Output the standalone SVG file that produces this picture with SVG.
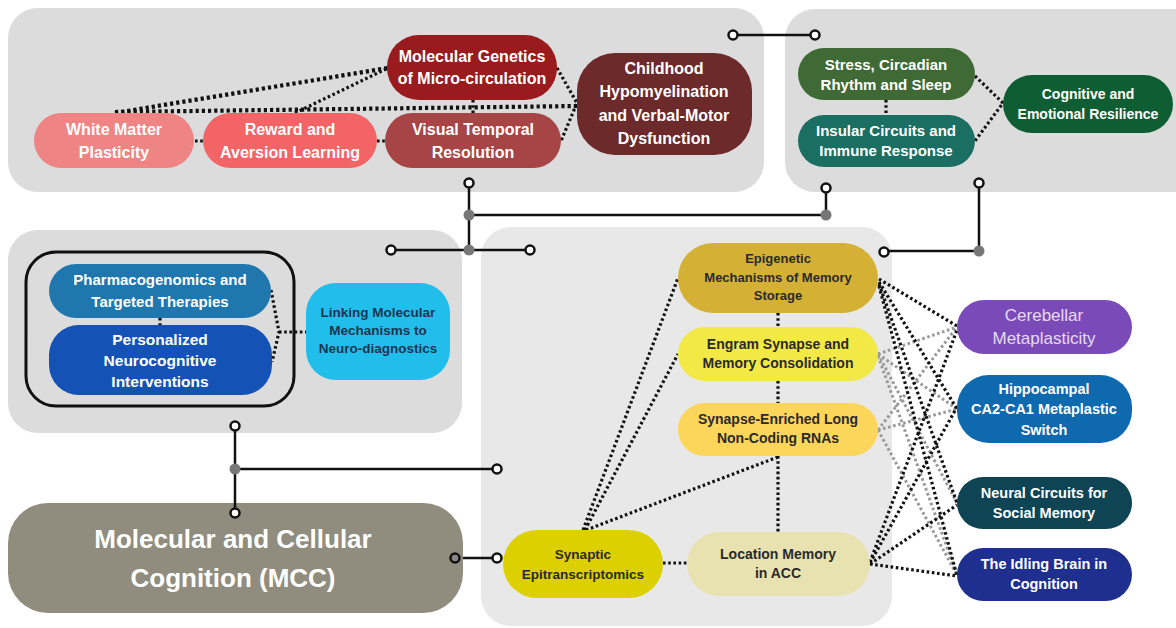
<svg xmlns="http://www.w3.org/2000/svg" width="1176" height="628" viewBox="0 0 1176 628">
<style>
.t{font-family:"Liberation Sans",Arial,sans-serif;font-weight:bold;text-anchor:middle;fill:#fff}
.d{fill:#2a2a2a}
.sol{stroke:#111;stroke-width:2.5;fill:none}
.dot{stroke:#111;stroke-width:3.2;stroke-dasharray:2.6 2.6;fill:none}
.dotk{stroke:#111;stroke-width:4.2;stroke-dasharray:3.2 3;fill:none}
.dotg{stroke:#999;stroke-width:3;stroke-dasharray:2.6 2.6;fill:none}
.oc{fill:#fff;stroke:#111;stroke-width:2.5}
.jd{fill:#777}
.panel{fill:#dcdcdc}
</style>
<rect class="panel" x="8" y="8" width="756" height="184" rx="30"/>
<rect class="panel" x="785" y="9" width="420" height="183" rx="30"/>
<rect class="panel" x="8" y="230" width="454" height="203" rx="30"/>
<rect x="481" y="227" width="411" height="399" rx="30" fill="#e8e8e8"/>

<g id="connectors">
<path class="dotk" d="M115 113 L388 68"/>
<path class="dotk" d="M115 112 L577 106"/>
<path class="dot" d="M295 113 L388 68"/>
<path class="dot" d="M195 141 H203"/>
<path class="dot" d="M377 141 H385"/>
<path class="dot" d="M473 100 V113"/>
<path class="dot" d="M557 68 L577 103 L561 141"/>
<path class="dot" d="M886 100 V115"/>
<path class="dot" d="M975 76 L1003 103 L975 141"/>
<path class="dot" d="M160 318 V325"/>
<path class="dot" d="M271 290 L279 332 L272 362"/>
<path class="dot" d="M279 332 H306"/>
<path class="dot" d="M778 313 V327"/>
<path class="dot" d="M778 381 V403"/>
<path class="dot" d="M778 456 V532"/>
<path class="dot" d="M583 530 L678 278"/>
<path class="dot" d="M585 530 L678 354"/>
<path class="dot" d="M586 530 L778 457"/>
<path class="dot" d="M663 563 H687"/>
<path class="dotg" d="M878 354 L957 327"/>
<path class="dotg" d="M878 354 L957 409"/>
<path class="dotg" d="M878 354 L957 503"/>
<path class="dotg" d="M878 356 L957 575"/>
<path class="dotg" d="M878 430 L957 327"/>
<path class="dotg" d="M878 430 L957 409"/>
<path class="dotg" d="M878 430 L957 575"/>
<path class="dot" d="M879 279 L957 326"/>
<path class="dot" d="M879 282 L957 409"/>
<path class="dot" d="M879 284 L957 503"/>
<path class="dot" d="M879 286 L957 576"/>
<path class="dot" d="M870 562 L957 330"/>
<path class="dot" d="M870 563 L957 407"/>
<path class="dot" d="M870 564 L957 505"/>
<path class="dot" d="M870 564 L957 576"/>
<path class="sol" d="M733 35 H815"/>
<path class="sol" d="M469 183 V250"/>
<path class="sol" d="M469 215 H826 V188"/>
<path class="sol" d="M391 250 H530"/>
<path class="sol" d="M979 183 V251 H884"/>
<path class="sol" d="M235 426 V513"/>
<path class="sol" d="M235 469 H497"/>
<path class="sol" d="M455 558 H497"/>
<circle class="jd" cx="469" cy="215" r="5.5"/>
<circle class="jd" cx="469" cy="250" r="5.5"/>
<circle class="jd" cx="826" cy="215" r="5.5"/>
<circle class="jd" cx="979" cy="251" r="5.5"/>
<circle class="jd" cx="235" cy="469" r="5.5"/>
<circle class="oc" cx="733" cy="35" r="4.5"/>
<circle class="oc" cx="815" cy="35" r="4.5"/>
<circle class="oc" cx="469" cy="183" r="4.5"/>
<circle class="oc" cx="826" cy="188" r="4.5"/>
<circle class="oc" cx="391" cy="250" r="4.5"/>
<circle class="oc" cx="530" cy="250" r="4.5"/>
<circle class="oc" cx="979" cy="183" r="4.5"/>
<circle class="oc" cx="884" cy="252" r="4.5"/>
<circle class="oc" cx="235" cy="426" r="4.5"/>
<circle class="oc" cx="497" cy="469" r="4.5"/>
<circle class="oc" cx="497" cy="558" r="4.5"/>
</g>

<g id="white-matter"><rect x="34" y="113" width="160" height="55" rx="27.5" fill="#ef8484"/>
<text class="t" x="114" y="135" font-size="16">White Matter</text><text class="t" x="114" y="158" font-size="16">Plasticity</text></g>
<g id="reward"><rect x="203" y="113" width="174" height="55" rx="27.5" fill="#f26466"/>
<text class="t" x="290" y="135" font-size="16">Reward and</text><text class="t" x="290" y="158" font-size="16">Aversion Learning</text></g>
<g id="mol-genetics"><rect x="387" y="35" width="170" height="65" rx="32" fill="#9a1b1d"/>
<text class="t" x="472" y="62" font-size="16">Molecular Genetics</text><text class="t" x="472" y="84" font-size="16">of Micro-circulation</text></g>
<g id="visual"><rect x="385" y="113" width="176" height="55" rx="27.5" fill="#a64446"/>
<text class="t" x="473" y="135" font-size="16">Visual Temporal</text><text class="t" x="473" y="158" font-size="16">Resolution</text></g>
<g id="childhood"><rect x="577" y="53" width="175" height="102" rx="38" fill="#6c2a2b"/>
<text class="t" x="664" y="74" font-size="16">Childhood</text><text class="t" x="664" y="97" font-size="16">Hypomyelination</text><text class="t" x="664" y="121" font-size="16">and Verbal-Motor</text><text class="t" x="664" y="144" font-size="16">Dysfunction</text></g>

<g id="stress"><rect x="798" y="48" width="177" height="52" rx="26" fill="#3f6a35"/>
<text class="t" x="886" y="70" font-size="15">Stress, Circadian</text><text class="t" x="886" y="90" font-size="15">Rhythm and Sleep</text></g>
<g id="insular"><rect x="798" y="115" width="177" height="52" rx="26" fill="#1a6e62"/>
<text class="t" x="886" y="136" font-size="15">Insular Circuits and</text><text class="t" x="886" y="156" font-size="15">Immune Response</text></g>
<g id="resilience"><rect x="1003" y="75" width="170" height="58" rx="29" fill="#0f5e33"/>
<text class="t" x="1088" y="99" font-size="14">Cognitive and</text><text class="t" x="1088" y="119" font-size="14">Emotional Resilience</text></g>

<g id="precision-box"><rect x="26" y="252" width="268" height="154" rx="30" fill="none" stroke="#111" stroke-width="3"/></g>
<g id="pharma"><rect x="49" y="264" width="222" height="54" rx="27" fill="#1f77ae"/>
<text class="t" x="160" y="285" font-size="15">Pharmacogenomics and</text><text class="t" x="160" y="307" font-size="15">Targeted Therapies</text></g>
<g id="personalized"><rect x="49" y="325" width="223" height="70" rx="30" fill="#1552b6"/>
<text class="t" x="160" y="345" font-size="15.5">Personalized</text><text class="t" x="160" y="366" font-size="15.5">Neurocognitive</text><text class="t" x="160" y="387" font-size="15.5">Interventions</text></g>
<g id="linking"><rect x="306" y="283" width="144" height="97" rx="30" fill="#21beec"/>
<text class="t" x="378" y="317" font-size="13.5" style="fill:#1b3550">Linking Molecular</text><text class="t" x="378" y="335" font-size="13.5" style="fill:#1b3550">Mechanisms to</text><text class="t" x="378" y="353" font-size="13.5" style="fill:#1b3550">Neuro-diagnostics</text></g>

<g id="epigenetic"><rect x="678" y="243" width="200" height="70" rx="35" fill="#d4b034"/>
<text class="t d" x="778" y="263" font-size="13">Epigenetic</text><text class="t d" x="778" y="282" font-size="13">Mechanisms of Memory</text><text class="t d" x="778" y="300" font-size="13">Storage</text></g>
<g id="engram"><rect x="678" y="327" width="200" height="54" rx="27" fill="#f2e846"/>
<text class="t d" x="778" y="349" font-size="14">Engram Synapse and</text><text class="t d" x="778" y="368" font-size="14">Memory Consolidation</text></g>
<g id="lncrna"><rect x="678" y="403" width="200" height="53" rx="26.5" fill="#fcd55b"/>
<text class="t d" x="778" y="424" font-size="14">Synapse-Enriched Long</text><text class="t d" x="778" y="443" font-size="14">Non-Coding RNAs</text></g>
<g id="epitranscriptomics"><rect x="503" y="530" width="160" height="68" rx="34" fill="#ddd000"/>
<text class="t d" x="583" y="559" font-size="13.5">Synaptic</text><text class="t d" x="583" y="579" font-size="13.5">Epitranscriptomics</text></g>
<g id="location"><rect x="687" y="532" width="183" height="64" rx="32" fill="#e8e2b1"/>
<text class="t d" x="778" y="559" font-size="14">Location Memory</text><text class="t d" x="778" y="578" font-size="14">in ACC</text></g>

<g id="cerebellar"><rect x="957" y="300" width="175" height="54" rx="27" fill="#7a4bb8"/>
<text class="t" x="1044" y="321" font-size="17" style="font-weight:normal;fill:#e6daf5">Cerebellar</text><text class="t" x="1044" y="344" font-size="17" style="font-weight:normal;fill:#e6daf5">Metaplasticity</text></g>
<g id="hippocampal"><rect x="957" y="375" width="175" height="68" rx="32" fill="#0f69af"/>
<text class="t" x="1044" y="394" font-size="14.5">Hippocampal</text><text class="t" x="1044" y="414" font-size="14.5">CA2-CA1 Metaplastic</text><text class="t" x="1044" y="435" font-size="14.5">Switch</text></g>
<g id="social"><rect x="957" y="477" width="175" height="52" rx="26" fill="#0f4455"/>
<text class="t" x="1044" y="498" font-size="14.5">Neural Circuits for</text><text class="t" x="1044" y="518" font-size="14.5">Social Memory</text></g>
<g id="idling"><rect x="957" y="548" width="175" height="53" rx="26.5" fill="#1f2f8f"/>
<text class="t" x="1044" y="569" font-size="14.5">The Idling Brain in</text><text class="t" x="1044" y="589" font-size="14.5">Cognition</text></g>

<g id="mcc"><rect x="8" y="503" width="455" height="110" rx="40" fill="#908d7e"/>
<text class="t" x="233" y="548" font-size="26">Molecular and Cellular</text><text class="t" x="233" y="587" font-size="26">Cognition (MCC)</text></g>
<g id="mcc-terminals">
<path class="sol" d="M235 503 V513"/>
<circle class="oc" cx="235" cy="513" r="4.5"/>
<circle class="oc" cx="455" cy="558" r="4.5" style="fill:#888"/>
</g>
</svg>
